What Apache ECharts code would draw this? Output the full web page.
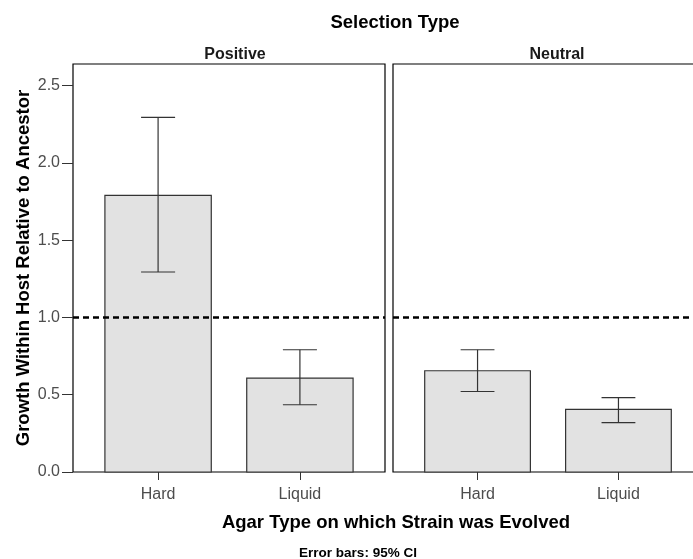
<!doctype html>
<html>
    <head>
        <meta charset="utf-8">
        <style>
            html, body { margin: 0; padding: 0; background: #fff; }
            #main { width: 693px; height: 559px; }
        </style>
    </head>
    <body>
        <div id="main"></div>
        <script src="https://cdn.jsdelivr.net/npm/echarts@6/dist/echarts.min.js"></script>
        <script>
            var chart = echarts.init(document.getElementById('main'));

            var categories = ['Hard', 'Liquid'];
            var positiveMean = [1.79, 0.608];
            var positiveLow = [1.294, 0.435];
            var positiveHigh = [2.294, 0.791];
            var neutralMean = [0.655, 0.405];
            var neutralLow = [0.521, 0.319];
            var neutralHigh = [0.791, 0.481];
            var yTicks = [0, 0.5, 1, 1.5, 2, 2.5];

            var font = '"Liberation Sans", Arial, sans-serif';

            function rows(mean, low, high) {
                return mean.map(function (m, i) {
                    return [i + 1, m, low[i], high[i]];
                });
            }

            // bar + 95% CI error bar, drawn through the axes
            function renderItem(params, api) {
                var x = api.value(0);
                var base = api.coord([x - 0.375, 0]);
                var topRight = api.coord([x + 0.375, api.value(1)]);
                var lo = api.coord([x, api.value(2)]);
                var hi = api.coord([x, api.value(3)]);
                var wl = api.coord([x - 0.12, 0])[0];
                var wr = api.coord([x + 0.12, 0])[0];
                var line = { stroke: '#333', lineWidth: 1.2 };
                return {
                    type: 'group',
                    children: [
                        {
                            type: 'rect',
                            shape: { x: base[0], y: topRight[1], width: topRight[0] - base[0], height: base[1] - topRight[1] },
                            style: { fill: '#e2e2e2', stroke: '#333', lineWidth: 1.2 }
                        },
                        { type: 'line', shape: { x1: lo[0], y1: lo[1], x2: hi[0], y2: hi[1] }, style: line },
                        { type: 'line', shape: { x1: wl, y1: lo[1], x2: wr, y2: lo[1] }, style: line },
                        { type: 'line', shape: { x1: wl, y1: hi[1], x2: wr, y2: hi[1] }, style: line }
                    ]
                };
            }

            function refLine() {
                return {
                    silent: true,
                    symbol: 'none',
                    label: { show: false },
                    lineStyle: { color: '#000', type: [6, 4], width: 2.5 },
                    data: [{ yAxis: 1 }]
                };
            }

            function xAxis(idx) {
                return {
                    type: 'value',
                    gridIndex: idx,
                    min: 0.4,
                    max: 2.6,
                    splitLine: { show: false },
                    axisLine: { show: false },
                    axisTick: { show: true, inside: false, length: 8, customValues: [1, 2], lineStyle: { color: '#333' } },
                    axisLabel: {
                        customValues: [1, 2],
                        margin: 15,
                        color: '#4d4d4d',
                        fontSize: 16,
                        fontFamily: font,
                        formatter: function (v) { return categories[Math.round(v) - 1]; }
                    }
                };
            }

            function yAxis(idx) {
                return {
                    type: 'value',
                    gridIndex: idx,
                    min: 0,
                    max: 2.64,
                    splitLine: { show: false },
                    axisLine: { show: false },
                    axisTick: { show: idx === 0, length: 11, customValues: yTicks, lineStyle: { color: '#333' } },
                    axisLabel: {
                        show: idx === 0,
                        customValues: yTicks,
                        margin: 13,
                        color: '#4d4d4d',
                        fontSize: 16,
                        fontFamily: font,
                        formatter: function (v) { return v.toFixed(1); }
                    },
                    name: idx === 0 ? 'Growth Within Host Relative to Ancestor' : '',
                    nameLocation: 'middle',
                    nameGap: 40,
                    nameMoveOverlap: false,
                    nameTextStyle: { color: '#000', fontSize: 18.5, fontWeight: 'bold', fontFamily: font }
                };
            }

            chart.setOption({
                backgroundColor: '#fff',
                animation: false,
                title: [
                    { text: 'Selection Type', left: 390, top: 8, textAlign: 'center',
                      textStyle: { fontSize: 18.5, fontWeight: 'bold', color: '#000', fontFamily: font } },
                    { text: 'Positive', left: 230, top: 42, textAlign: 'center',
                      textStyle: { fontSize: 16, fontWeight: 'bold', color: '#1a1a1a', fontFamily: font } },
                    { text: 'Neutral', left: 552, top: 42, textAlign: 'center',
                      textStyle: { fontSize: 16, fontWeight: 'bold', color: '#1a1a1a', fontFamily: font } },
                    { text: 'Agar Type on which Strain was Evolved', left: 391, top: 508, textAlign: 'center',
                      textStyle: { fontSize: 18.5, fontWeight: 'bold', color: '#000', fontFamily: font } },
                    { text: 'Error bars: 95% CI', left: 353, top: 541, textAlign: 'center',
                      textStyle: { fontSize: 13.5, fontWeight: 'bold', color: '#000', fontFamily: font } }
                ],
                grid: [
                    { left: 73, right: 308, top: 64, bottom: 87, show: true, borderColor: '#000', borderWidth: 1.2,
                      backgroundColor: '#fff', outerBoundsMode: 'none' },
                    { left: 393, width: 310, top: 64, bottom: 87, show: true, borderColor: '#000', borderWidth: 1.2,
                      backgroundColor: '#fff', outerBoundsMode: 'none' }
                ],
                xAxis: [xAxis(0), xAxis(1)],
                yAxis: [yAxis(0), yAxis(1)],
                series: [
                    {
                        type: 'custom',
                        name: 'Positive',
                        xAxisIndex: 0,
                        yAxisIndex: 0,
                        renderItem: renderItem,
                        encode: { x: 0, y: [1, 2, 3] },
                        data: rows(positiveMean, positiveLow, positiveHigh),
                        markLine: refLine()
                    },
                    {
                        type: 'custom',
                        name: 'Neutral',
                        xAxisIndex: 1,
                        yAxisIndex: 1,
                        renderItem: renderItem,
                        encode: { x: 0, y: [1, 2, 3] },
                        data: rows(neutralMean, neutralLow, neutralHigh),
                        markLine: refLine()
                    }
                ]
            });

            window.addEventListener('resize', function () {
                chart.resize();
            });
        </script>
    </body>
</html>
